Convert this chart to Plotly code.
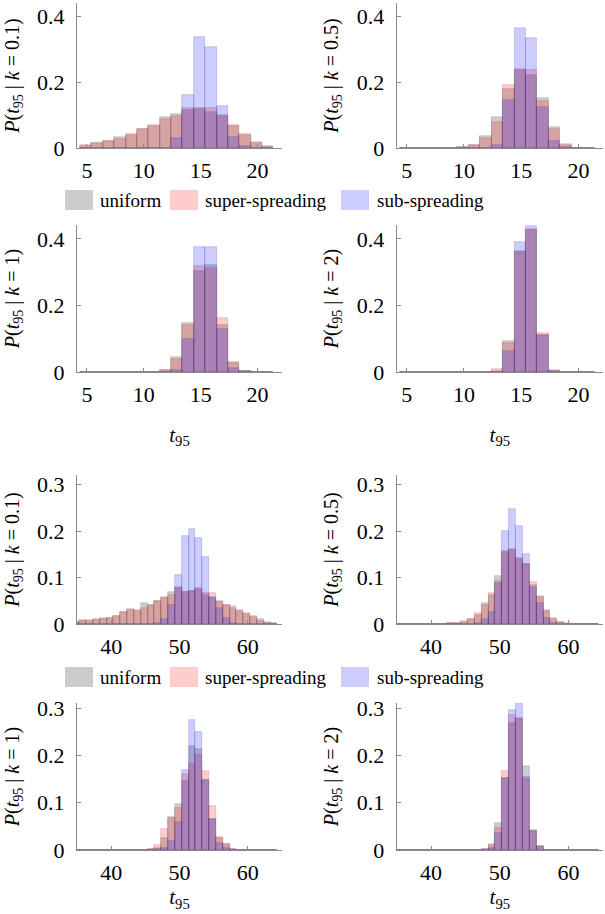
import plotly.graph_objects as go

W, H = 605, 914

# ---------------- data ----------------
t95_bins_small = list(range(5, 22))      # 5..21
t95_bins_large = list(range(35, 65))     # 35..64

series_names = ["uniform", "super-spreading", "sub-spreading"]

small_k01_uniform = [0.006, 0.016, 0.022, 0.033, 0.038, 0.057, 0.066, 0.094, 0.102, 0.115, 0.118, 0.108, 0.098, 0.066, 0.040, 0.016, 0.007]
small_k01_super = [0.008, 0.015, 0.022, 0.027, 0.042, 0.058, 0.070, 0.089, 0.098, 0.120, 0.120, 0.120, 0.100, 0.070, 0.042, 0.018, 0.002]
small_k01_sub = [0, 0, 0, 0, 0, 0, 0, 0, 0.030, 0.160, 0.337, 0.306, 0.128, 0.034, 0.006, 0, 0]

small_k05_uniform = [0, 0, 0, 0, 0, 0.002, 0.008, 0.035, 0.093, 0.178, 0.238, 0.222, 0.153, 0.065, 0.010, 0.001, 0]
small_k05_super = [0, 0, 0, 0, 0, 0.003, 0.010, 0.030, 0.080, 0.190, 0.240, 0.237, 0.143, 0.057, 0.012, 0.001, 0]
small_k05_sub = [0, 0, 0, 0, 0, 0, 0, 0, 0.010, 0.145, 0.365, 0.333, 0.123, 0.022, 0.002, 0, 0]

small_k1_uniform = [0, 0, 0, 0, 0, 0, 0, 0.005, 0.045, 0.148, 0.305, 0.323, 0.140, 0.030, 0.003, 0, 0]
small_k1_super = [0, 0, 0, 0, 0, 0, 0, 0.007, 0.038, 0.140, 0.318, 0.312, 0.163, 0.028, 0.003, 0, 0]
small_k1_sub = [0, 0, 0, 0, 0, 0, 0, 0, 0.005, 0.100, 0.375, 0.375, 0.130, 0.013, 0.002, 0, 0]

small_k2_uniform = [0, 0, 0, 0, 0, 0, 0, 0, 0.003, 0.092, 0.365, 0.428, 0.112, 0.003, 0, 0, 0]
small_k2_super = [0, 0, 0, 0, 0, 0, 0, 0, 0.008, 0.088, 0.360, 0.430, 0.118, 0.007, 0, 0, 0]
small_k2_sub = [0, 0, 0, 0, 0, 0, 0, 0, 0, 0.063, 0.390, 0.440, 0.112, 0.002, 0, 0, 0]

large_k01_uniform = [0.005, 0.008, 0.007, 0.010, 0.012, 0.012, 0.017, 0.025, 0.032, 0.028, 0.045, 0.040, 0.050, 0.058, 0.070,
                     0.078, 0.068, 0.072, 0.075, 0.063, 0.055, 0.050, 0.040, 0.035, 0.028, 0.022, 0.016, 0.010, 0.005, 0.002]
large_k01_super = [0.005, 0.006, 0.008, 0.009, 0.010, 0.013, 0.018, 0.026, 0.030, 0.030, 0.035, 0.041, 0.050, 0.057, 0.063,
                   0.080, 0.070, 0.072, 0.078, 0.067, 0.067, 0.048, 0.042, 0.038, 0.030, 0.024, 0.017, 0.007, 0.003, 0.001]
large_k01_sub = [0, 0, 0, 0, 0, 0, 0, 0, 0, 0, 0, 0, 0.003, 0.010, 0.040,
                 0.105, 0.190, 0.205, 0.185, 0.145, 0.058, 0.035, 0.012, 0.002, 0, 0, 0, 0, 0, 0]

large_k05_uniform = [0, 0, 0, 0, 0, 0, 0, 0, 0.002, 0.003, 0.005, 0.010, 0.020, 0.045, 0.062,
                     0.104, 0.155, 0.160, 0.140, 0.130, 0.085, 0.058, 0.028, 0.010, 0.004, 0.001, 0, 0, 0, 0]
large_k05_super = [0, 0, 0, 0, 0, 0, 0, 0, 0.002, 0.003, 0.006, 0.010, 0.023, 0.040, 0.066,
                   0.092, 0.158, 0.162, 0.143, 0.130, 0.090, 0.060, 0.030, 0.012, 0.004, 0.002, 0, 0, 0, 0]
large_k05_sub = [0, 0, 0, 0, 0, 0, 0, 0, 0, 0, 0, 0, 0.002, 0.010, 0.025,
                 0.088, 0.200, 0.248, 0.212, 0.150, 0.080, 0.045, 0.012, 0.003, 0, 0, 0, 0, 0, 0]

large_k1_uniform = [0, 0, 0, 0, 0, 0, 0, 0, 0, 0, 0, 0.002, 0.005, 0.025, 0.070,
                    0.097, 0.145, 0.220, 0.213, 0.148, 0.065, 0.025, 0.012, 0.003, 0, 0, 0, 0, 0, 0]
large_k1_super = [0, 0, 0, 0, 0, 0, 0, 0, 0, 0, 0, 0.003, 0.010, 0.045, 0.068,
                  0.088, 0.160, 0.183, 0.200, 0.167, 0.093, 0.027, 0.012, 0.002, 0, 0, 0, 0, 0, 0]
large_k1_sub = [0, 0, 0, 0, 0, 0, 0, 0, 0, 0, 0, 0, 0.002, 0.005, 0.020,
                0.060, 0.170, 0.275, 0.250, 0.148, 0.065, 0.015, 0.005, 0, 0, 0, 0, 0, 0, 0]

large_k2_uniform = [0, 0, 0, 0, 0, 0, 0, 0, 0, 0, 0, 0, 0, 0.001, 0.010,
                    0.058, 0.152, 0.268, 0.280, 0.178, 0.040, 0.008, 0, 0, 0, 0, 0, 0, 0, 0]
large_k2_super = [0, 0, 0, 0, 0, 0, 0, 0, 0, 0, 0, 0, 0, 0.002, 0.013,
                  0.047, 0.168, 0.285, 0.278, 0.150, 0.042, 0.008, 0, 0, 0, 0, 0, 0, 0, 0]
large_k2_sub = [0, 0, 0, 0, 0, 0, 0, 0, 0, 0, 0, 0, 0, 0.002, 0.005,
                0.035, 0.152, 0.297, 0.310, 0.155, 0.040, 0.007, 0, 0, 0, 0, 0, 0, 0, 0]

k_labels = ["0.1", "0.5", "1", "2"]
small_ticks = [5, 10, 15, 20]
large_ticks = [40, 50, 60]
small_yticks = [0, 0.2, 0.4]
small_yticklabels = ["0", "0.2", "0.4"]
large_yticks = [0, 0.1, 0.2, 0.3]
large_yticklabels = ["0", "0.1", "0.2", "0.3"]

# ---------------- style ----------------
FONT = "'Liberation Serif', 'Times New Roman', Times, 'DejaVu Serif', serif"
fills = ["rgba(128,128,128,0.4)", "rgba(255,0,0,0.2)", "rgba(0,0,255,0.2)"]
edges = ["rgba(90,90,90,0.35)", "rgba(150,60,60,0.35)", "rgba(60,60,150,0.35)"]
AXC = "#8a8a8a"

col_px = [(77, 282), (396.7, 603)]
row_px = [(3, 148), (225, 372), (475, 624), (703, 850)]


def px_x(v):
    return v / W


def px_y(v):
    return 1 - v / H


panels = [
    (0, 0, t95_bins_small, [small_k01_uniform, small_k01_super, small_k01_sub], k_labels[0], "small"),
    (0, 1, t95_bins_small, [small_k05_uniform, small_k05_super, small_k05_sub], k_labels[1], "small"),
    (1, 0, t95_bins_small, [small_k1_uniform, small_k1_super, small_k1_sub], k_labels[2], "small"),
    (1, 1, t95_bins_small, [small_k2_uniform, small_k2_super, small_k2_sub], k_labels[3], "small"),
    (2, 0, t95_bins_large, [large_k01_uniform, large_k01_super, large_k01_sub], k_labels[0], "large"),
    (2, 1, t95_bins_large, [large_k05_uniform, large_k05_super, large_k05_sub], k_labels[1], "large"),
    (3, 0, t95_bins_large, [large_k1_uniform, large_k1_super, large_k1_sub], k_labels[2], "large"),
    (3, 1, t95_bins_large, [large_k2_uniform, large_k2_super, large_k2_sub], k_labels[3], "large"),
]

yranges = {0: [0, 0.44], 1: [0, 0.442], 2: [0, 0.321], 3: [0, 0.311]}
xranges = {"small": [4.13, 22.15], "large": [35.0, 65.0]}
bin_offset = {"small": -0.6, "large": -0.68}

fig = go.Figure()
layout = dict()

for i, (r, c, bins, vals, k, block) in enumerate(panels):
    n = i + 1
    xa = "x" if n == 1 else f"x{n}"
    ya = "y" if n == 1 else f"y{n}"
    for j, name in enumerate(series_names):
        fig.add_trace(go.Bar(
            x=bins, y=vals[j], name=name, xaxis=xa, yaxis=ya,
            width=1.0, offset=bin_offset[block],
            marker=dict(color=fills[j], line=dict(color=edges[j], width=0.6)),
            showlegend=False, hovertemplate="t95=%{x}<br>P=%{y}<extra>" + name + "</extra>",
        ))
    x0, x1 = col_px[c]
    y0, y1 = row_px[r]
    xkey = "xaxis" if n == 1 else f"xaxis{n}"
    ykey = "yaxis" if n == 1 else f"yaxis{n}"
    xt = small_ticks if block == "small" else large_ticks
    yt = small_yticks if block == "small" else large_yticks
    ytl = small_yticklabels if block == "small" else large_yticklabels
    xax = dict(
        domain=[px_x(x0), px_x(x1)], anchor=ya, range=xranges[block], automargin=False,
        tickmode="array", tickvals=xt, ticktext=[str(v) for v in xt],
        ticks="inside", ticklen=4, tickcolor=AXC, tickwidth=1,
        showline=True, linecolor=AXC, linewidth=1, showgrid=False, zeroline=False,
        tickfont=dict(family=FONT, size=22, color="black"), ticklabelstandoff=3,
        fixedrange=True,
    )
    if r in (1, 3):
        xax["title"] = dict(text="<i>t</i><sub>95</sub>", font=dict(family=FONT, size=21, color="black"),
                            standoff=20 if r == 1 else 4)
    layout[xkey] = xax
    layout[ykey] = dict(
        domain=[px_y(y1), px_y(y0)], anchor=xa, range=yranges[r], automargin=False,
        tickmode="array", tickvals=yt, ticktext=ytl,
        ticks="inside", ticklen=4, tickcolor=AXC, tickwidth=1,
        showline=True, linecolor=AXC, linewidth=1, showgrid=False, zeroline=False,
        tickfont=dict(family=FONT, size=22, color="black"), ticklabelstandoff=7,
        title=dict(text=f"<i>P</i>(<i>t</i><sub>95</sub> | <i>k</i> = {k})",
                   font=dict(family=FONT, size=20, color="black"), standoff=12),
        fixedrange=True,
    )

shapes = []
annotations = []
legend_items = [(65, 93, 98), (170, 198, 203), (341, 369, 375)]
for cy in (200, 677):
    for j, (sx0, sx1, tx) in enumerate(legend_items):
        shapes.append(dict(type="rect", xref="paper", yref="paper",
                           x0=px_x(sx0), x1=px_x(sx1), y0=px_y(cy + 10), y1=px_y(cy - 10),
                           fillcolor=fills[j], line=dict(width=0)))
        annotations.append(dict(text=series_names[j], xref="paper", yref="paper",
                                x=px_x(tx), y=px_y(cy), xanchor="left", yanchor="middle",
                                showarrow=False, font=dict(family=FONT, size=19, color="black")))

fig.update_layout(
    width=W, height=H, margin=dict(l=0, r=0, t=0, b=0, autoexpand=False),
    paper_bgcolor="white", plot_bgcolor="white",
    barmode="overlay", bargap=0, showlegend=False,
    font=dict(family=FONT, color="black", size=20),
    shapes=shapes, annotations=annotations,
    **layout,
)

page_fix = (
    "document.documentElement.style.margin='0px';"
    "document.body.style.margin='0px';document.body.style.padding='0px';"
)
fig.write_html("out.html", config={"displayModeBar": False}, post_script=page_fix)
